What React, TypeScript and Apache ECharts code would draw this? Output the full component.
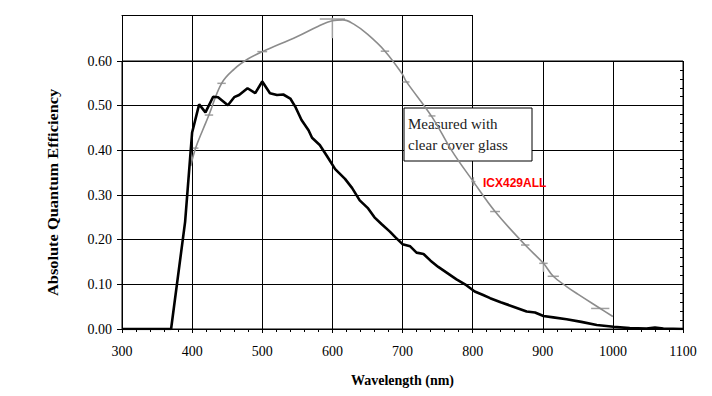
import React, { useEffect, useRef } from 'react';
import * as echarts from 'echarts';

// Measured QE (black curve)
const measuredWavelength = [300, 370, 390, 400, 410, 419, 430, 437, 451, 460, 467, 479, 490, 500, 511, 521, 530, 540, 547, 556, 566, 571, 582, 592, 604, 618, 628, 639, 651, 660, 670, 682, 690, 700, 711, 720, 730, 740, 751, 764, 777, 791, 803, 815, 825, 840, 858, 877, 889, 901, 915, 934, 955, 977, 1001, 1024, 1048, 1060, 1072, 1100];
const measuredQE = [0, 0, 0.24, 0.44, 0.503, 0.485, 0.52, 0.519, 0.501, 0.519, 0.524, 0.539, 0.528, 0.554, 0.528, 0.524, 0.525, 0.516, 0.498, 0.468, 0.445, 0.428, 0.412, 0.388, 0.358, 0.336, 0.316, 0.288, 0.27, 0.25, 0.235, 0.218, 0.205, 0.19, 0.185, 0.171, 0.168, 0.153, 0.139, 0.125, 0.111, 0.098, 0.084, 0.076, 0.069, 0.06, 0.05, 0.039, 0.037, 0.029, 0.026, 0.022, 0.016, 0.009, 0.005, 0.002, 0.001, 0.003, 0.001, 0];

// Clear cover glass curve (gray)
const glassWavelength = [398, 405, 415, 424, 442, 460, 480, 500, 550, 580, 600, 615, 630, 650, 675, 700, 705, 742, 770, 801, 832, 875, 901, 915, 934, 950, 982, 1000];
const glassQE = [0.365, 0.405, 0.445, 0.479, 0.55, 0.582, 0.605, 0.621, 0.655, 0.678, 0.69, 0.692, 0.683, 0.66, 0.622, 0.57, 0.555, 0.475, 0.4, 0.33, 0.263, 0.188, 0.147, 0.118, 0.095, 0.078, 0.046, 0.028];

// Error bar markers on gray curve
const markerWavelength = [405, 424, 442, 500, 600, 675, 705, 742, 801, 832, 875, 901, 915, 982];
const markerQE = [0.405, 0.479, 0.55, 0.621, 0.694, 0.622, 0.553, 0.477, 0.33, 0.263, 0.188, 0.147, 0.118, 0.046];
const markerXErr = [4, 6, 6, 7, 18, 6, 5, 5, 3, 7, 6, 6, 8, 13];
const markerYLow = [0.405, 0.479, 0.55, 0.621, 0.651, 0.622, 0.553, 0.477, 0.32, 0.263, 0.188, 0.128, 0.118, 0.046];
const markerYHigh = [0.405, 0.479, 0.55, 0.621, 0.697, 0.622, 0.553, 0.477, 0.34, 0.263, 0.188, 0.151, 0.118, 0.046];

const xTicks = [300, 400, 500, 600, 700, 800, 900, 1000, 1100];
const yTicks = [0, 0.1, 0.2, 0.3, 0.4, 0.5, 0.6];

const SERIF = "'Times New Roman', 'Liberation Serif', serif";
const SANS = "Arial, 'Liberation Sans', sans-serif";

export default function App() {
  const ref = useRef<HTMLDivElement>(null);
  useEffect(() => {
    if (!ref.current) return;
    const chart = echarts.init(ref.current, undefined, { renderer: 'svg' });
    const black = measuredWavelength.map((x, i) => [x, measuredQE[i]]);
    const gray = glassWavelength.map((x, i) => [x, glassQE[i]]);
    const markers = markerWavelength.map((x, i) => [x, markerQE[i], markerXErr[i], markerYLow[i], markerYHigh[i]]);
    const option: any = {
      animation: false,
      backgroundColor: '#fff',
      grid: [
        { left: 122, right: 29, top: 61, bottom: 67, show: true, borderColor: '#000', borderWidth: 1, backgroundColor: 'transparent' },
        { left: 122, width: 350, top: 15, height: 46, show: false },
      ],
      xAxis: [
        {
          type: 'value', gridIndex: 0, min: xTicks[0], max: xTicks[xTicks.length - 1], interval: 100,
          axisLine: { show: true, lineStyle: { color: '#000', width: 1 } },
          axisTick: { show: true, length: 4, lineStyle: { color: '#000' } },
          minorTick: { show: true, splitNumber: 5, length: 3, lineStyle: { color: '#000' } },
          splitLine: { show: true, lineStyle: { color: '#000', width: 1 } },
          axisLabel: { color: '#000', fontFamily: SERIF, fontSize: 14, margin: 15, formatter: (v: number) => String(v) },
          name: 'Wavelength (nm)', nameLocation: 'middle', nameGap: 44,
          nameTextStyle: { color: '#000', fontFamily: SERIF, fontSize: 14, fontWeight: 'bold' },
        },
        {
          type: 'value', gridIndex: 1, position: 'top', min: 300, max: 800, interval: 100,
          axisLine: { show: true, lineStyle: { color: '#000', width: 1 } }, axisTick: { show: false }, axisLabel: { show: false },
          splitLine: { show: true, lineStyle: { color: '#000', width: 1 } },
        },
      ],
      yAxis: [
        {
          type: 'value', gridIndex: 0, min: yTicks[0], max: yTicks[yTicks.length - 1], interval: 0.1,
          axisLine: { show: true, lineStyle: { color: '#000', width: 1 } },
          axisTick: { show: true, length: 5, lineStyle: { color: '#000' } },
          splitLine: { show: true, lineStyle: { color: '#000', width: 1 } },
          axisLabel: { color: '#000', fontFamily: SERIF, fontSize: 14, margin: 10, formatter: (v: number) => v.toFixed(2) },
        },
        {
          type: 'value', gridIndex: 0, min: 0, max: 0.6, interval: 0.02,
          axisLine: { show: false },
          axisTick: { show: true, inside: true, length: 3, lineStyle: { color: '#000' } },
          axisLabel: { show: false }, splitLine: { show: false },
        },
        {
          type: 'value', gridIndex: 1, min: 0.6, max: 0.7,
          axisLine: { show: false }, axisTick: { show: false }, axisLabel: { show: false }, splitLine: { show: false },
        },
      ],
      graphic: [
        {
          type: 'text', x: 53, y: 296, rotation: Math.PI / 2, scaleX: 1.17, z: 5,
          style: { text: 'Absolute Quantum Efficiency', font: `bold 14px ${SERIF}`, fill: '#000', align: 'left', verticalAlign: 'middle' },
        },
        {
          type: 'rect', z: 1, shape: { x: 404, y: 108, width: 128, height: 53 },
          style: { fill: '#fff', stroke: '#000', lineWidth: 1 },
        },
        {
          type: 'text', z: 1, x: 408, y: 124,
          style: { text: 'Measured with', font: `15px ${SERIF}`, fill: '#222', align: 'left', verticalAlign: 'middle' },
        },
        {
          type: 'text', z: 1, x: 408, y: 145,
          style: { text: 'clear cover glass', font: `15px ${SERIF}`, fill: '#222', align: 'left', verticalAlign: 'middle' },
        },
        {
          type: 'text', z: 5, x: 483, y: 183,
          style: { text: 'ICX429ALL', font: `bold 12px ${SANS}`, fill: '#ff0000', align: 'left', verticalAlign: 'middle' },
        },
      ],
      series: [
        {
          type: 'line', xAxisIndex: 0, yAxisIndex: 0, data: gray, smooth: 0.4, showSymbol: false, clip: false,
          lineStyle: { color: '#8c8c8c', width: 1.6 }, z: 3,
        },
        {
          type: 'custom', xAxisIndex: 0, yAxisIndex: 0, data: markers, clip: false, z: 3,
          renderItem: (params: any, api: any) => {
            const x = api.value(0), y = api.value(1), xe = api.value(2), lo = api.value(3), hi = api.value(4);
            const a = api.coord([x - xe, y]);
            const b = api.coord([x + xe, y]);
            const c = api.coord([x, lo]);
            const d = api.coord([x, hi]);
            const st = { stroke: '#a0a0a0', lineWidth: 1.5 };
            return {
              type: 'group',
              children: [
                { type: 'line', shape: { x1: a[0], y1: a[1], x2: b[0], y2: b[1] }, style: st },
                { type: 'line', shape: { x1: c[0], y1: c[1], x2: d[0], y2: d[1] }, style: st },
              ],
            };
          },
        },
        {
          type: 'line', xAxisIndex: 0, yAxisIndex: 0, data: black, showSymbol: false,
          lineStyle: { color: '#000', width: 2.6 }, z: 4,
        },
      ],
    };
    chart.setOption(option);
    return () => chart.dispose();
  }, []);
  return <div ref={ref} style={{ position: 'fixed', left: 0, top: 0, width: 712, height: 396 }} />;
}
